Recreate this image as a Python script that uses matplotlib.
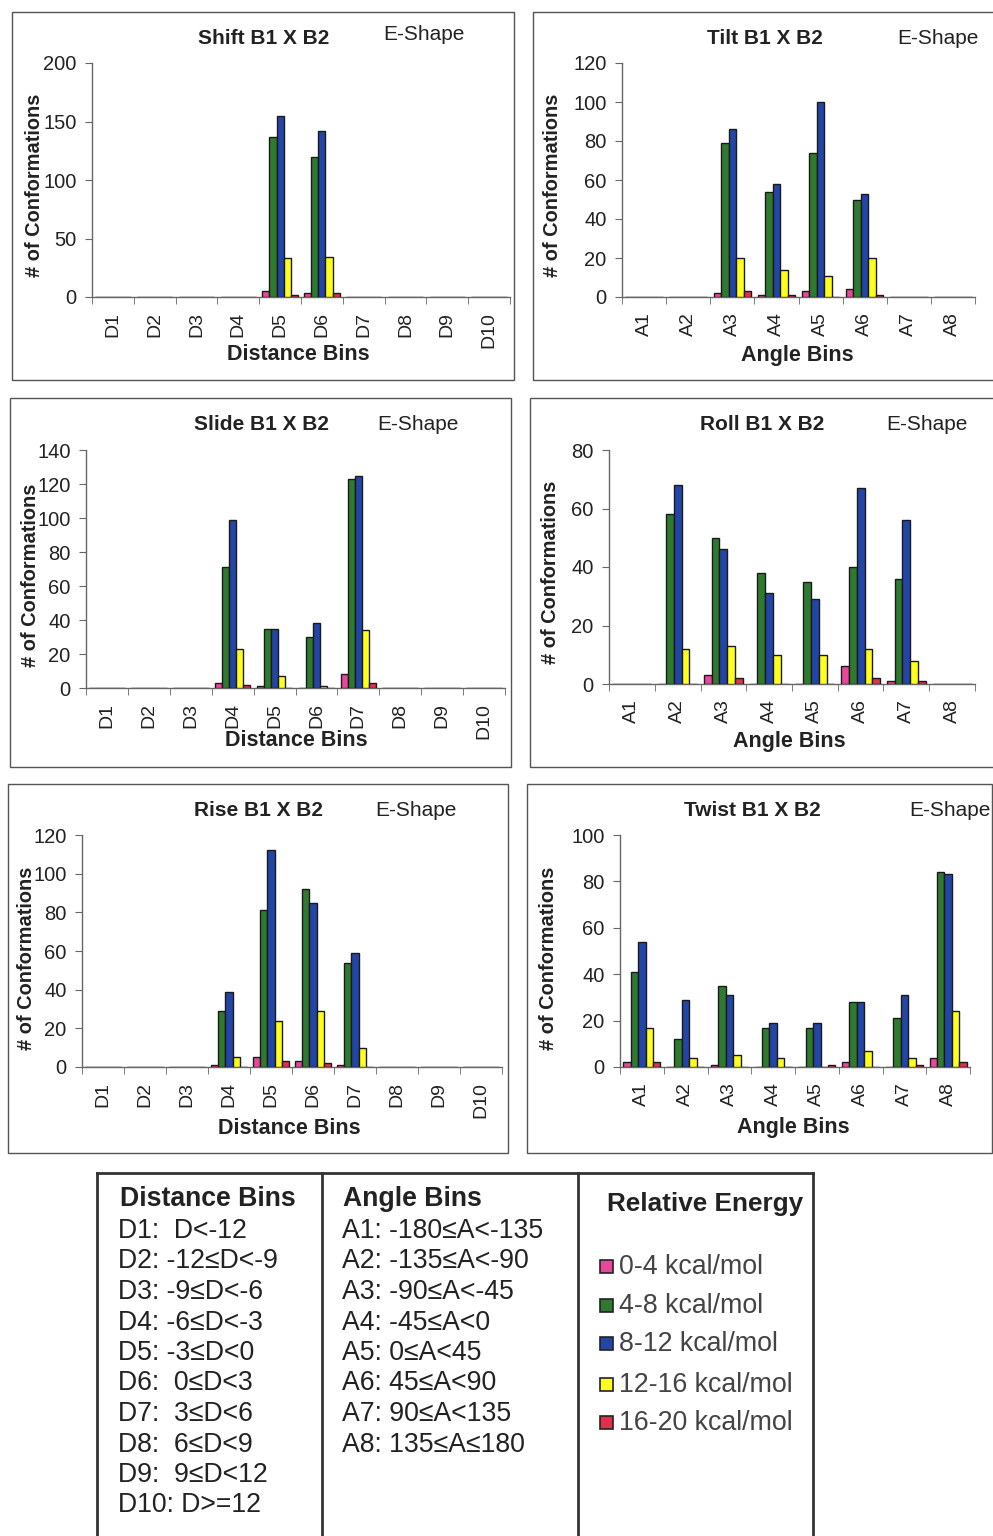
import matplotlib
matplotlib.use("Agg")
import matplotlib.pyplot as plt
import numpy as np
from matplotlib.patches import Rectangle
from matplotlib.lines import Line2D

plt.rcParams['font.family'] = ['Liberation Sans', 'DejaVu Sans']

# ---------------- data ----------------
dist_bins = ['D1', 'D2', 'D3', 'D4', 'D5', 'D6', 'D7', 'D8', 'D9', 'D10']
angle_bins = ['A1', 'A2', 'A3', 'A4', 'A5', 'A6', 'A7', 'A8']
energy_labels = ['0-4 kcal/mol', '4-8 kcal/mol', '8-12 kcal/mol',
                 '12-16 kcal/mol', '16-20 kcal/mol']
energy_colors = ['#e8479c', '#2f7a30', '#2346a6', '#ffff1e', '#e0304c']

# each list: one series per energy range (0-4, 4-8, 8-12, 12-16, 16-20)
shift_counts = [
    [0, 0, 0, 0, 5, 3, 0, 0, 0, 0],
    [0, 0, 0, 0, 137, 120, 0, 0, 0, 0],
    [0, 0, 0, 0, 155, 142, 0, 0, 0, 0],
    [0, 0, 0, 0, 33, 34, 0, 0, 0, 0],
    [0, 0, 0, 0, 2, 3, 0, 0, 0, 0],
]
tilt_counts = [
    [0, 0, 2, 1, 3, 4, 0, 0],
    [0, 0, 79, 54, 74, 50, 0, 0],
    [0, 0, 86, 58, 100, 53, 0, 0],
    [0, 0, 20, 14, 11, 20, 0, 0],
    [0, 0, 3, 1, 0, 1, 0, 0],
]
slide_counts = [
    [0, 0, 0, 3, 1, 0, 8, 0, 0, 0],
    [0, 0, 0, 71, 35, 30, 123, 0, 0, 0],
    [0, 0, 0, 99, 35, 38, 125, 0, 0, 0],
    [0, 0, 0, 23, 7, 1, 34, 0, 0, 0],
    [0, 0, 0, 2, 0, 0, 3, 0, 0, 0],
]
roll_counts = [
    [0, 0, 3, 0, 0, 6, 1, 0],
    [0, 58, 50, 38, 35, 40, 36, 0],
    [0, 68, 46, 31, 29, 67, 56, 0],
    [0, 12, 13, 10, 10, 12, 8, 0],
    [0, 0, 2, 0, 0, 2, 1, 0],
]
rise_counts = [
    [0, 0, 0, 1, 5, 3, 1, 0, 0, 0],
    [0, 0, 0, 29, 81, 92, 54, 0, 0, 0],
    [0, 0, 0, 39, 112, 85, 59, 0, 0, 0],
    [0, 0, 0, 5, 24, 29, 10, 0, 0, 0],
    [0, 0, 0, 0, 3, 2, 0, 0, 0, 0],
]
twist_counts = [
    [2, 0, 1, 0, 0, 2, 0, 4],
    [41, 12, 35, 17, 17, 28, 21, 84],
    [54, 29, 31, 19, 19, 28, 31, 83],
    [17, 4, 5, 4, 0, 7, 4, 24],
    [2, 0, 0, 0, 1, 0, 1, 2],
]

dist_defs = ['D1:  D<-12', 'D2: -12≤D<-9', 'D3: -9≤D<-6', 'D4: -6≤D<-3',
             'D5: -3≤D<0', 'D6:  0≤D<3', 'D7:  3≤D<6', 'D8:  6≤D<9',
             'D9:  9≤D<12', 'D10: D>=12']
angle_defs = ['A1: -180≤A<-135', 'A2: -135≤A<-90', 'A3: -90≤A<-45',
              'A4: -45≤A<0', 'A5: 0≤A<45', 'A6: 45≤A<90', 'A7: 90≤A<135',
              'A8: 135≤A≤180']

# ---------------- layout ----------------
W, H = 993, 1536
fig = plt.figure(figsize=(W / 100, H / 100), dpi=100)


def fx(x):
    return x / W


def fy(y):
    return 1 - y / H


def add_ax(l, t, r, b):
    return fig.add_axes([fx(l), fy(b), (r - l) / W, (b - t) / H])


def border(l, t, r, b, lw=1.0, color='#555555'):
    fig.patches.append(Rectangle((fx(l), fy(b)), (r - l) / W, (b - t) / H,
                                 transform=fig.transFigure, fill=False,
                                 lw=lw, edgecolor=color))


panels = [
    dict(box=(12, 12, 514, 380), ax=(92, 63, 510, 297), cats=dist_bins,
         counts=shift_counts, ymax=200, ystep=50, title='Shift B1 X B2',
         tpos=(264, 38), epos=(424, 35), ypos=(35, 185),
         xlabel='Distance Bins', xpos=(298, 355)),
    dict(box=(533, 12, 1000, 380), ax=(622, 63, 975, 297), cats=angle_bins,
         counts=tilt_counts, ymax=120, ystep=20, title='Tilt B1 X B2',
         tpos=(765, 38), epos=(938, 39), ypos=(553, 185),
         xlabel='Angle Bins', xpos=(797, 355)),
    dict(box=(10, 398, 511, 767), ax=(86, 450, 505, 688), cats=dist_bins,
         counts=slide_counts, ymax=140, ystep=20, title='Slide B1 X B2',
         tpos=(261, 424), epos=(418, 425), ypos=(31, 575),
         xlabel='Distance Bins', xpos=(296, 741)),
    dict(box=(530, 398, 1000, 767), ax=(609, 450, 975, 684), cats=angle_bins,
         counts=roll_counts, ymax=80, ystep=20, title='Roll B1 X B2',
         tpos=(762, 424), epos=(927, 425), ypos=(551, 572),
         xlabel='Angle Bins', xpos=(789, 741)),
    dict(box=(8, 784, 508, 1153), ax=(82, 835, 502, 1067), cats=dist_bins,
         counts=rise_counts, ymax=120, ystep=20, title='Rise B1 X B2',
         tpos=(259, 811), epos=(416, 811), ypos=(27, 958),
         xlabel='Distance Bins', xpos=(289, 1128)),
    dict(box=(527, 784, 992, 1153), ax=(620, 835, 970, 1067), cats=angle_bins,
         counts=twist_counts, ymax=100, ystep=20, title='Twist B1 X B2',
         tpos=(752, 811), epos=(950, 811), ypos=(549, 958),
         xlabel='Angle Bins', xpos=(793, 1128)),
]

txt = '#222222'
bar_w = 0.17
for p in panels:
    border(*p['box'])
    ax = add_ax(*p['ax'])
    n = len(p['cats'])
    x = np.arange(n)
    for k, (series, col) in enumerate(zip(p['counts'], energy_colors)):
        ax.bar(x + (k - 2) * bar_w, series, width=bar_w, color=col,
               edgecolor='#1a1a1a', linewidth=1.0, zorder=3)
    ax.set_xlim(-0.5, n - 0.5)
    ax.set_ylim(0, p['ymax'])
    ax.set_yticks(np.arange(0, p['ymax'] + 1, p['ystep']))
    ax.set_xticks(x)
    ax.set_xticklabels(p['cats'], rotation=90, fontsize=14, color=txt)
    ax.set_xticks(np.arange(-0.5, n, 1.0), minor=True)
    ax.tick_params(axis='x', which='major', length=0, pad=11)
    ax.tick_params(axis='x', which='minor', length=5, direction='out',
                   color='#666666')
    ax.tick_params(axis='y', which='major', length=5, direction='out',
                   labelsize=14.5, color='#666666', labelcolor=txt, pad=6)
    for s in ['top', 'right']:
        ax.spines[s].set_visible(False)
    for s in ['left', 'bottom']:
        ax.spines[s].set_color('#666666')
        ax.spines[s].set_linewidth(1.0)
    ax.patch.set_alpha(0)
    fig.text(fx(p['tpos'][0]), fy(p['tpos'][1]), p['title'], ha='center',
             va='center', fontsize=15, fontweight='bold', color=txt)
    fig.text(fx(p['epos'][0]), fy(p['epos'][1]), 'E-Shape', ha='center',
             va='center', fontsize=15, color=txt)
    fig.text(fx(p['ypos'][0]), fy(p['ypos'][1]), '# of Conformations',
             ha='center', va='center', rotation=90, fontsize=14.4,
             fontweight='bold', color=txt)
    fig.text(fx(p['xpos'][0]), fy(p['xpos'][1]), p['xlabel'], ha='center',
             va='center', fontsize=15.5, fontweight='bold', color=txt)

# ---------------- bottom table ----------------
lc = '#333333'
for xline in [97, 322, 578, 813]:
    fig.lines.append(Line2D([fx(xline), fx(xline)], [fy(1173), fy(1536)],
                            transform=fig.transFigure, color=lc, lw=2))
fig.lines.append(Line2D([fx(97), fx(813)], [fy(1173), fy(1173)],
                        transform=fig.transFigure, color=lc, lw=2))

tsize = 19.2
fig.text(fx(120), fy(1199), 'Distance Bins', ha='left', va='center',
         fontsize=19.2, fontweight='bold', color=txt)
for i, s in enumerate(dist_defs):
    fig.text(fx(118), fy(1231 + 30.5 * i), s, ha='left', va='center',
             fontsize=tsize, color=txt)
fig.text(fx(343), fy(1199), 'Angle Bins', ha='left', va='center',
         fontsize=19.2, fontweight='bold', color=txt)
for i, s in enumerate(angle_defs):
    fig.text(fx(342), fy(1231 + 30.5 * i), s, ha='left', va='center',
             fontsize=tsize, color=txt)
fig.text(fx(607), fy(1204), 'Relative Energy', ha='left', va='center',
         fontsize=18.8, fontweight='bold', color=txt)
leg_y = [1267, 1306, 1344, 1385, 1423]
for yy, lab, col in zip(leg_y, energy_labels, energy_colors):
    fig.patches.append(Rectangle((fx(600), fy(yy + 6)), 13 / W, 13 / H,
                                 transform=fig.transFigure, facecolor=col,
                                 edgecolor='#222222', lw=1.2))
    fig.text(fx(619), fy(yy), lab, ha='left', va='center', fontsize=19.3,
             color='#444444')

fig.savefig('out.png', dpi=100)
